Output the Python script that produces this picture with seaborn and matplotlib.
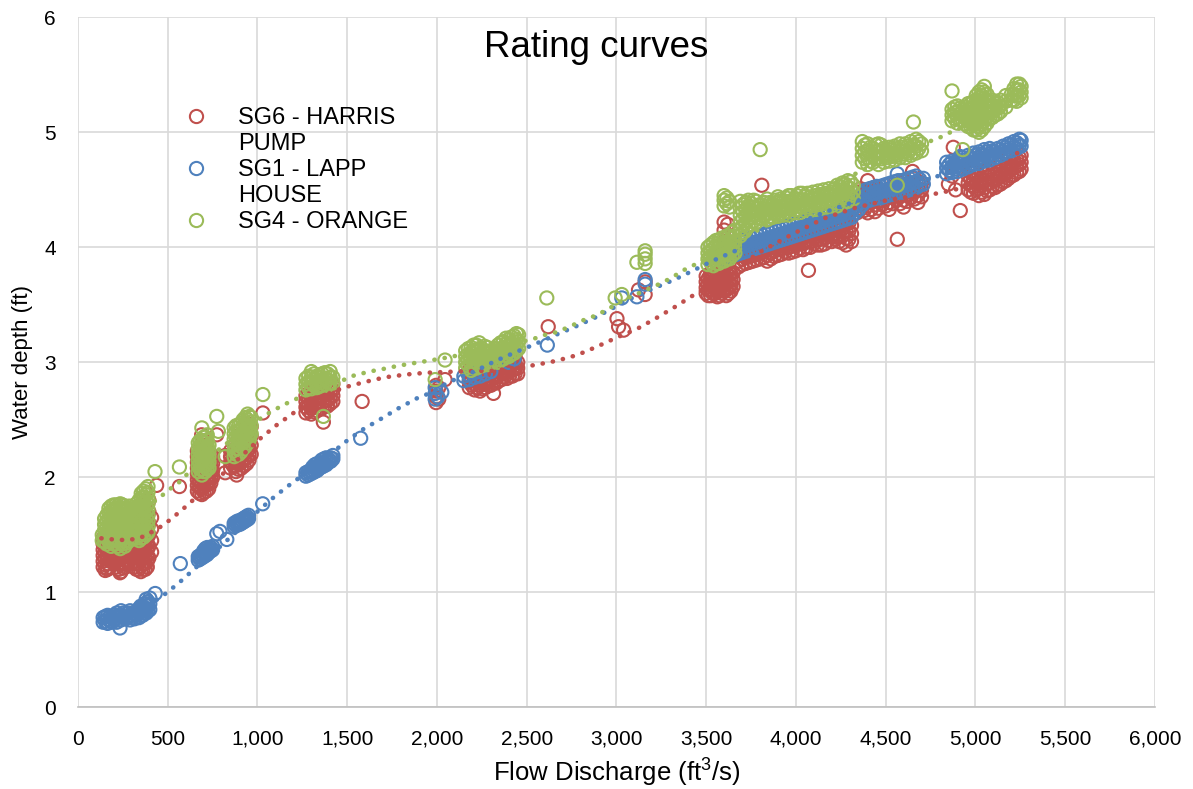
import matplotlib
matplotlib.use('Agg')
import matplotlib.pyplot as plt
import seaborn as sns
import pandas as pd
from matplotlib.lines import Line2D
from matplotlib.ticker import FuncFormatter

# (flow ft3/s, [water depths ft]), one column of points per flow
sg6_harris = [
    (140, [1.22, 1.27, 1.32, 1.37, 1.42, 1.47]), (160, [1.21]),
    (165, [1.20, 1.25, 1.30, 1.35, 1.40, 1.45, 1.50]), (190, [1.28, 1.33, 1.38, 1.43]),
    (215, [1.22, 1.27, 1.32, 1.37, 1.42]), (234, [1.17]),
    (240, [1.18, 1.24, 1.30, 1.36, 1.42, 1.48]), (265, [1.22, 1.28, 1.34, 1.40]),
    (300, [1.25, 1.30, 1.35, 1.40, 1.45]),
    (325, [1.20, 1.25, 1.30, 1.35, 1.40, 1.45, 1.50, 1.55]),
    (350, [1.18, 1.23, 1.28, 1.33, 1.38, 1.43, 1.48, 1.53, 1.58, 1.63]),
    (375, [1.20, 1.25, 1.30, 1.35, 1.40, 1.45, 1.50, 1.55, 1.60, 1.65, 1.70]),
    (395, [1.30, 1.40, 1.50, 1.60, 1.70, 1.80]), (438, [1.93]), (565, [1.92]),
    (665, [1.88, 1.93, 1.98, 2.03, 2.08, 2.13, 2.18, 2.23]), (689, [2.37]),
    (690, [1.85, 1.90, 1.95, 2.00, 2.05, 2.10, 2.15, 2.20, 2.25]),
    (715, [1.88, 1.93, 1.98, 2.03, 2.08, 2.13, 2.18, 2.23, 2.28]),
    (740, [1.95, 2.00, 2.05, 2.10, 2.15, 2.20]), (773, [2.37]), (820, [2.04, 2.19]),
    (850, [2.08, 2.13, 2.18, 2.23]), (880, [2.05, 2.10, 2.15, 2.20, 2.25, 2.30]), (884, [2.02]),
    (910, [2.08, 2.13, 2.18, 2.23, 2.28, 2.33, 2.38]),
    (940, [2.12, 2.17, 2.22, 2.27, 2.32, 2.37, 2.42, 2.47]),
    (965, [2.20, 2.28, 2.36, 2.44]), (1030, [2.56]),
    (1270, [2.56, 2.61, 2.66, 2.71]), (1300, [2.55, 2.60, 2.65, 2.70, 2.75]),
    (1330, [2.58, 2.63, 2.68, 2.73]), (1360, [2.60, 2.65, 2.70, 2.75]), (1367, [2.48]),
    (1390, [2.62, 2.67, 2.72, 2.77]), (1420, [2.66, 2.71, 2.76, 2.81]), (1583, [2.66]),
    (1995, [2.65, 2.70, 2.75, 2.80]), (2010, [2.68, 2.78]), (2045, [2.85]),
    (2180, [2.78, 2.83, 2.88, 2.93]), (2210, [2.76, 2.81, 2.86, 2.91]),
    (2240, [2.75, 2.80, 2.85, 2.90, 2.95]), (2270, [2.78, 2.83, 2.88, 2.93]),
    (2300, [2.80, 2.85, 2.90, 2.95]), (2315, [2.73]), (2330, [2.82, 2.87, 2.92]),
    (2360, [2.85, 2.90, 2.95, 3.00]), (2390, [2.86, 2.91, 2.96, 3.01]),
    (2420, [2.88, 2.93, 2.98, 3.03]), (2450, [2.90, 2.95, 3.00]), (2620, [3.31]),
    (3003, [3.38]), (3012, [3.31]), (3040, [3.28]), (3123, [3.63]), (3160, [3.59, 3.70]),
    (3500, [3.60, 3.65, 3.70, 3.75]), (3525, [3.58, 3.63, 3.68, 3.73, 3.78]),
    (3550, [3.60, 3.65, 3.70, 3.75]), (3575, [3.58, 3.63, 3.68, 3.73, 3.78]),
    (3600, [3.62, 3.67, 3.72, 3.77, 3.82, 3.95, 4.05, 4.15, 4.22]), (3620, [4.00, 4.10, 4.20]),
    (3625, [3.60, 3.65, 3.70, 3.75, 3.80]), (3650, [3.66, 3.72, 3.78]),
    (3680, [3.83, 3.88, 3.93, 3.98]), (3720, [3.86, 3.91, 3.96]),
    (3760, [3.88, 3.93, 3.98, 4.03]), (3800, [3.90, 3.95, 4.00]), (3810, [4.54]),
    (3840, [3.88, 3.93, 3.98, 4.03]), (3880, [3.92, 3.97, 4.02]),
    (3920, [3.94, 3.99, 4.04, 4.09]), (3960, [3.95, 4.00, 4.05]),
    (4000, [3.97, 4.02, 4.07, 4.12]), (4040, [3.98, 4.03, 4.08]), (4070, [3.80]),
    (4080, [4.00, 4.05, 4.10, 4.15]), (4120, [4.02, 4.07, 4.12]),
    (4160, [4.03, 4.08, 4.13, 4.18]), (4200, [4.05, 4.10, 4.15]),
    (4240, [4.05, 4.10, 4.15, 4.20]), (4280, [4.02, 4.08, 4.14, 4.20, 4.26]),
    (4310, [4.05, 4.12, 4.19]), (4340, [4.30, 4.36, 4.42, 4.48]),
    (4380, [4.32, 4.38, 4.44, 4.50]), (4400, [4.58]), (4420, [4.33, 4.39, 4.45, 4.51]),
    (4460, [4.34, 4.40, 4.46]), (4500, [4.36, 4.42, 4.48, 4.54]), (4540, [4.38, 4.44, 4.50]),
    (4565, [4.07]), (4580, [4.38, 4.44, 4.50, 4.56]), (4620, [4.40, 4.46, 4.52]),
    (4650, [4.66]), (4660, [4.42, 4.48, 4.54, 4.60]), (4700, [4.44, 4.50, 4.56]),
    (4850, [4.55]), (4870, [4.62]), (4877, [4.87]), (4890, [4.50]), (4916, [4.32]),
    (4960, [4.50, 4.56, 4.62, 4.68]), (4990, [4.47, 4.53, 4.59, 4.65]),
    (5020, [4.45, 4.51, 4.57, 4.63]), (5050, [4.46, 4.52, 4.58, 4.64]),
    (5080, [4.50, 4.56, 4.62, 4.68]), (5110, [4.52, 4.58, 4.64]),
    (5140, [4.55, 4.61, 4.67, 4.73]), (5170, [4.58, 4.64, 4.70]),
    (5200, [4.62, 4.68, 4.74]), (5230, [4.65, 4.71, 4.77]), (5255, [4.68, 4.74, 4.80]),
]
# in-between readings inside the dense SG6 blobs
sg6_harris_fill = [
    (152, [1.19, 1.24, 1.29, 1.34, 1.39]), (178, [1.22, 1.27, 1.32, 1.37]),
    (203, [1.25, 1.30, 1.35, 1.40]), (228, [1.20, 1.25, 1.30, 1.35, 1.40]),
    (252, [1.21, 1.26, 1.31, 1.36]), (282, [1.27, 1.32, 1.37]),
    (312, [1.22, 1.27, 1.32, 1.37, 1.42, 1.47]),
    (338, [1.20, 1.25, 1.30, 1.35, 1.40, 1.45, 1.50, 1.55]),
    (362, [1.20, 1.25, 1.30, 1.35, 1.40, 1.45, 1.50, 1.55, 1.60]),
    (386, [1.22, 1.27, 1.32, 1.37, 1.42, 1.47, 1.52, 1.57, 1.62, 1.67]),
    (410, [1.35, 1.45, 1.55, 1.65]),
    (678, [1.86, 1.91, 1.96, 2.01, 2.06]), (702, [1.87, 1.92, 1.97, 2.02, 2.07, 2.12]),
    (728, [1.90, 1.95, 2.00, 2.05, 2.10, 2.15, 2.20]), (750, [2.00, 2.06, 2.12, 2.18]),
    (865, [2.10, 2.15, 2.20]), (895, [2.07, 2.12, 2.17, 2.22, 2.27]),
    (925, [2.10, 2.15, 2.20, 2.25, 2.30, 2.35]), (953, [2.15, 2.20, 2.25, 2.30, 2.35, 2.40, 2.45]),
    (1285, [2.58, 2.63, 2.68, 2.73]), (1315, [2.57, 2.62, 2.67, 2.72]),
    (1345, [2.60, 2.65, 2.70, 2.75]), (1375, [2.62, 2.67, 2.72, 2.77]),
    (1405, [2.64, 2.69, 2.74, 2.79]),
    (2195, [2.80, 2.85, 2.90]), (2225, [2.78, 2.83, 2.88, 2.93]), (2255, [2.77, 2.82, 2.87, 2.92]),
    (2285, [2.80, 2.85, 2.90, 2.95]), (2315, [2.82, 2.87, 2.92]), (2345, [2.84, 2.89, 2.94, 2.99]),
    (2375, [2.87, 2.92, 2.97]), (2405, [2.88, 2.93, 2.98, 3.03]), (2435, [2.90, 2.95, 3.00, 3.05]),
    (3512, [3.58, 3.63, 3.68, 3.73]), (3537, [3.60, 3.65, 3.70, 3.75, 3.80]),
    (3562, [3.57, 3.62, 3.67, 3.72, 3.77]), (3587, [3.60, 3.65, 3.70, 3.75, 3.80]),
    (3612, [3.58, 3.63, 3.68, 3.73, 3.78]), (3638, [3.62, 3.67, 3.72, 3.77]),
    (3700, [3.85, 3.90, 3.95]), (3740, [3.87, 3.92, 3.97, 4.02]), (3780, [3.89, 3.94, 3.99, 4.04]),
    (3820, [3.91, 3.96, 4.01]), (3860, [3.90, 3.95, 4.00, 4.05]), (3900, [3.93, 3.98, 4.03]),
    (3940, [3.96, 4.01, 4.06]), (3980, [3.96, 4.01, 4.06, 4.11]), (4020, [3.99, 4.04, 4.09]),
    (4060, [4.00, 4.05, 4.10, 4.15]), (4100, [4.03, 4.08, 4.13]), (4140, [4.02, 4.07, 4.12, 4.17]),
    (4180, [4.06, 4.11, 4.16]), (4220, [4.07, 4.12, 4.17, 4.22]), (4260, [4.04, 4.10, 4.16, 4.22]),
    (4295, [4.07, 4.14, 4.21, 4.28]),
    (4360, [4.33, 4.39, 4.45, 4.51]), (4400, [4.30, 4.36, 4.42, 4.48]),
    (4440, [4.31, 4.37, 4.43, 4.49]), (4480, [4.37, 4.43, 4.49]), (4520, [4.33, 4.39, 4.45, 4.51]),
    (4560, [4.41, 4.47, 4.53]), (4600, [4.35, 4.41, 4.47, 4.53]), (4640, [4.43, 4.49, 4.55]),
    (4680, [4.39, 4.45, 4.51, 4.57]),
    (4975, [4.48, 4.54, 4.60, 4.66]), (5005, [4.50, 4.56, 4.62]), (5035, [4.48, 4.54, 4.60, 4.66]),
    (5065, [4.49, 4.55, 4.61, 4.67]), (5095, [4.53, 4.59, 4.65]), (5125, [4.54, 4.60, 4.66, 4.72]),
    (5155, [4.57, 4.63, 4.69]), (5185, [4.60, 4.66, 4.72, 4.78]), (5215, [4.63, 4.69, 4.75]),
    (5245, [4.66, 4.72, 4.78]),
]

sg1_lapp = [
    (140, [0.74, 0.78]), (165, [0.73, 0.77, 0.80]), (190, [0.74, 0.78]),
    (215, [0.74, 0.78, 0.82]), (234, [0.69]), (240, [0.76, 0.80, 0.84]), (265, [0.77, 0.81]),
    (290, [0.76, 0.80, 0.84]), (315, [0.77, 0.81]), (340, [0.78, 0.82, 0.86]),
    (360, [0.80, 0.84, 0.88]), (380, [0.82, 0.86, 0.90, 0.94]), (400, [0.85, 0.90, 0.95]),
    (430, [0.99]), (570, [1.25]),
    (670, [1.28, 1.31]), (690, [1.30, 1.33]), (710, [1.32, 1.35, 1.38]), (730, [1.35, 1.38]),
    (750, [1.37, 1.40]), (773, [1.51]), (791, [1.53]), (829, [1.46]),
    (870, [1.57, 1.60]), (890, [1.59, 1.62]), (910, [1.60, 1.63]), (930, [1.62, 1.65]),
    (950, [1.64, 1.67]), (1029, [1.77]),
    (1270, [2.01, 2.04]), (1295, [2.03, 2.06]), (1320, [2.05, 2.08, 2.11]), (1345, [2.08, 2.11]),
    (1370, [2.10, 2.13, 2.16]), (1395, [2.13, 2.16]), (1420, [2.16, 2.19]), (1575, [2.34]),
    (1990, [2.68, 2.73, 2.78]), (2005, [2.70]), (2027, [2.74]),
    (2150, [2.84, 2.88]), (2180, [2.85, 2.89]), (2210, [2.87, 2.91]), (2240, [2.88, 2.92]),
    (2270, [2.90]), (2300, [2.92]), (2400, [3.00]), (2430, [3.03]), (2615, [3.15]),
    (3030, [3.56]), (3114, [3.57]), (3160, [3.68, 3.72]),
    (3590, [3.90, 3.95]), (3630, [3.92, 3.97, 4.02]), (3670, [3.94, 3.99, 4.04]),
    (3710, [3.96, 4.01, 4.06]), (3750, [3.98, 4.03, 4.08]), (3790, [4.00, 4.05, 4.10]),
    (3830, [4.02, 4.07, 4.12]), (3870, [4.04, 4.09, 4.14]), (3910, [4.06, 4.11, 4.16]),
    (3950, [4.08, 4.13, 4.18]), (3990, [4.10, 4.15, 4.20]), (4030, [4.12, 4.17, 4.22]),
    (4070, [4.14, 4.19, 4.24]), (4110, [4.16, 4.21, 4.26]), (4150, [4.18, 4.23, 4.28]),
    (4190, [4.20, 4.25, 4.30]), (4230, [4.22, 4.27, 4.32]), (4270, [4.24, 4.29, 4.34]),
    (4310, [4.26, 4.31, 4.36]), (4350, [4.33, 4.38, 4.43]), (4390, [4.40, 4.45, 4.50]),
    (4430, [4.42, 4.47, 4.52]), (4470, [4.43, 4.48, 4.53]), (4510, [4.45, 4.50, 4.55]),
    (4550, [4.47, 4.52, 4.57]), (4565, [4.64]), (4590, [4.48, 4.53, 4.58]),
    (4630, [4.50, 4.55, 4.60]), (4670, [4.52, 4.57, 4.62]), (4710, [4.55, 4.60]),
    (4840, [4.64, 4.69, 4.74]), (4870, [4.65, 4.70, 4.75]), (4900, [4.66, 4.71, 4.76]),
    (4930, [4.68, 4.73, 4.78]), (4960, [4.70, 4.75, 4.80]), (4990, [4.72, 4.77, 4.82]),
    (5020, [4.73, 4.78, 4.83]), (5050, [4.75, 4.80, 4.85]), (5080, [4.76, 4.81, 4.86]),
    (5110, [4.78, 4.83]), (5140, [4.80, 4.85]), (5170, [4.82, 4.87]), (5200, [4.84, 4.89]),
    (5230, [4.86, 4.91]), (5255, [4.88, 4.93]),
]
sg1_lapp_fill = [
    (152, [0.75, 0.79]), (178, [0.75, 0.79]), (203, [0.76, 0.80]), (228, [0.76, 0.80]),
    (252, [0.78, 0.82]), (278, [0.78, 0.82]), (302, [0.78, 0.82]), (328, [0.80, 0.84]),
    (350, [0.80, 0.84, 0.88]), (370, [0.82, 0.86, 0.90]), (390, [0.84, 0.88, 0.92]),
    (680, [1.29, 1.32]), (700, [1.31, 1.34, 1.36]), (720, [1.33, 1.36, 1.39]), (740, [1.36, 1.39]),
    (880, [1.58, 1.61]), (900, [1.59, 1.62]), (920, [1.61, 1.64]), (940, [1.63, 1.66]),
    (1283, [2.02, 2.05]), (1308, [2.04, 2.07, 2.09]), (1333, [2.06, 2.09, 2.12]),
    (1358, [2.09, 2.12, 2.15]), (1383, [2.11, 2.14, 2.17]), (1408, [2.14, 2.17]),
    (3610, [3.91, 3.96, 4.01]), (3650, [3.93, 3.98, 4.03]), (3690, [3.95, 4.00, 4.05]),
    (3730, [3.97, 4.02, 4.07]), (3770, [3.99, 4.04, 4.09]), (3810, [4.01, 4.06, 4.11]),
    (3850, [4.03, 4.08, 4.13]), (3890, [4.05, 4.10, 4.15]), (3930, [4.07, 4.12, 4.17]),
    (3970, [4.09, 4.14, 4.19]), (4010, [4.11, 4.16, 4.21]), (4050, [4.13, 4.18, 4.23]),
    (4090, [4.15, 4.20, 4.25]), (4130, [4.17, 4.22, 4.27]), (4170, [4.19, 4.24, 4.29]),
    (4210, [4.21, 4.26, 4.31]), (4250, [4.23, 4.28, 4.33]), (4290, [4.25, 4.30, 4.35]),
    (4330, [4.30, 4.35, 4.40]), (4370, [4.37, 4.42, 4.47]), (4410, [4.41, 4.46, 4.51]),
    (4450, [4.43, 4.48, 4.53]), (4490, [4.44, 4.49, 4.54]), (4530, [4.46, 4.51, 4.56]),
    (4570, [4.48, 4.53, 4.58]), (4610, [4.49, 4.54, 4.59]), (4650, [4.51, 4.56, 4.61]),
    (4690, [4.54, 4.59]),
    (4855, [4.67, 4.72]), (4885, [4.68, 4.73]), (4915, [4.69, 4.74, 4.79]), (4945, [4.71, 4.76]),
    (4975, [4.73, 4.78]), (5005, [4.75, 4.80]), (5035, [4.76, 4.81]), (5065, [4.78, 4.83]),
    (5095, [4.79, 4.84]), (5125, [4.81, 4.86]), (5155, [4.83, 4.88]), (5185, [4.85, 4.90]),
    (5215, [4.87, 4.92]), (5245, [4.89, 4.94]),
]

sg4_orange = [
    (135, [1.45, 1.50]), (160, [1.42, 1.47, 1.52, 1.57, 1.62, 1.67]),
    (185, [1.40, 1.45, 1.50, 1.55, 1.60, 1.65, 1.70, 1.75]),
    (210, [1.42, 1.47, 1.52, 1.57, 1.62, 1.67, 1.72, 1.76]),
    (235, [1.38, 1.43, 1.48, 1.53, 1.58, 1.63, 1.68, 1.73, 1.77]),
    (260, [1.40, 1.45, 1.50, 1.55, 1.60, 1.65, 1.70, 1.75]),
    (285, [1.45, 1.50, 1.55, 1.60, 1.65, 1.70, 1.75]),
    (310, [1.48, 1.53, 1.58, 1.63, 1.68, 1.73]),
    (340, [1.45, 1.50, 1.55, 1.60, 1.65, 1.70, 1.75, 1.80]),
    (365, [1.48, 1.53, 1.58, 1.63, 1.68, 1.73, 1.78, 1.83, 1.88]),
    (390, [1.52, 1.57, 1.62, 1.67, 1.72, 1.77, 1.82, 1.87, 1.92]),
    (429, [2.05]), (565, [2.09]),
    (670, [2.05, 2.10, 2.15, 2.20, 2.25, 2.30]), (690, [2.02, 2.07, 2.12, 2.17, 2.22, 2.27, 2.32, 2.43]),
    (710, [2.05, 2.10, 2.15, 2.20, 2.25, 2.30, 2.35]), (730, [2.08, 2.13, 2.18, 2.23, 2.28]),
    (773, [2.53]), (782, [2.40]), (820, [2.18]),
    (870, [2.18, 2.23, 2.28, 2.33, 2.38, 2.43]), (895, [2.20, 2.25, 2.30, 2.35, 2.40, 2.45]),
    (920, [2.25, 2.30, 2.35, 2.40, 2.45, 2.50]), (945, [2.30, 2.35, 2.40, 2.45, 2.50, 2.55]),
    (965, [2.38, 2.45, 2.52]), (1030, [2.72]),
    (1270, [2.76, 2.81, 2.86]), (1300, [2.77, 2.82, 2.87, 2.92]), (1330, [2.78, 2.83, 2.88]),
    (1360, [2.80, 2.85, 2.90]), (1367, [2.53]), (1390, [2.80, 2.85, 2.90]), (1420, [2.82, 2.87]),
    (1990, [2.85]), (2045, [3.02]),
    (2160, [2.95, 3.00, 3.05, 3.10]), (2190, [2.93, 2.98, 3.03, 3.08, 3.13]),
    (2220, [2.95, 3.00, 3.05, 3.10, 3.15]), (2250, [2.97, 3.02, 3.07, 3.12]),
    (2280, [2.98, 3.03, 3.08, 3.13]), (2310, [3.00, 3.05, 3.10]),
    (2340, [3.00, 3.05, 3.10, 3.15]), (2370, [3.03, 3.08, 3.13, 3.18]),
    (2400, [3.05, 3.10, 3.15, 3.20]), (2430, [3.08, 3.13, 3.18, 3.23]),
    (2455, [3.12, 3.18, 3.24]), (2612, [3.56]),
    (2993, [3.56]), (3030, [3.59]), (3114, [3.87]), (3160, [3.86, 3.90, 3.94, 3.97]),
    (3510, [3.85, 3.90, 3.95, 4.00]), (3540, [3.84, 3.89, 3.94, 3.99, 4.04]),
    (3570, [3.86, 3.91, 3.96, 4.01, 4.06]),
    (3600, [3.88, 3.93, 3.98, 4.03, 4.08, 4.36, 4.41, 4.45]),
    (3630, [3.90, 3.95, 4.00, 4.05, 4.10, 4.35, 4.40]), (3660, [3.95, 4.00, 4.05, 4.10, 4.15]),
    (3690, [4.10, 4.16, 4.22, 4.28, 4.34, 4.40]), (3720, [4.15, 4.21, 4.27, 4.33, 4.39]),
    (3750, [4.20, 4.26, 4.32, 4.38]), (3780, [4.22, 4.28, 4.34, 4.40]), (3801, [4.85]),
    (3810, [4.25, 4.31, 4.37]), (3840, [4.24, 4.30, 4.36, 4.42]), (3870, [4.26, 4.32, 4.38]),
    (3900, [4.27, 4.33, 4.39, 4.44]), (3930, [4.28, 4.34, 4.40]), (3960, [4.28, 4.34, 4.40, 4.45]),
    (3990, [4.30, 4.36, 4.42]), (4020, [4.30, 4.36, 4.42, 4.47]), (4050, [4.32, 4.38, 4.44]),
    (4080, [4.32, 4.38, 4.44]), (4110, [4.33, 4.39, 4.45]), (4140, [4.34, 4.40, 4.46]),
    (4170, [4.35, 4.41, 4.47]), (4200, [4.36, 4.42, 4.48]), (4230, [4.36, 4.42, 4.48, 4.54]),
    (4260, [4.38, 4.44, 4.50, 4.56]), (4290, [4.40, 4.46, 4.52, 4.58]), (4320, [4.42, 4.48, 4.54]),
    (4370, [4.74, 4.80, 4.86, 4.92]), (4400, [4.72, 4.78, 4.84, 4.90]), (4430, [4.74, 4.80, 4.86]),
    (4460, [4.72, 4.78, 4.84, 4.90]), (4490, [4.74, 4.80, 4.86]), (4520, [4.75, 4.81, 4.87]),
    (4550, [4.76, 4.82, 4.88]), (4565, [4.54]), (4580, [4.78, 4.84, 4.90]),
    (4610, [4.78, 4.84, 4.90]), (4640, [4.80, 4.86, 4.92]), (4655, [5.09]),
    (4670, [4.82, 4.88, 4.94]), (4700, [4.84, 4.90]),
    (4870, [5.10, 5.15, 5.20, 5.36]), (4900, [5.08, 5.13, 5.18, 5.23]), (4930, [4.85, 5.10, 5.15, 5.20]),
    (4960, [5.05, 5.10, 5.15, 5.20, 5.25]), (4990, [5.02, 5.07, 5.12, 5.17, 5.22, 5.27]),
    (5020, [5.00, 5.05, 5.10, 5.15, 5.20, 5.25, 5.30, 5.35]),
    (5050, [5.05, 5.10, 5.15, 5.20, 5.25, 5.30, 5.35, 5.40]),
    (5080, [5.12, 5.17, 5.22, 5.27]), (5110, [5.15, 5.20, 5.25]), (5140, [5.18, 5.23, 5.28]),
    (5200, [5.28, 5.33]), (5230, [5.27, 5.32, 5.37, 5.42]), (5255, [5.30, 5.35, 5.40]),
]
sg4_orange_fill = [
    (148, [1.44, 1.49, 1.54, 1.59, 1.64]), (172, [1.44, 1.49, 1.54, 1.59, 1.64, 1.69, 1.73]),
    (198, [1.42, 1.47, 1.52, 1.57, 1.62, 1.67, 1.72, 1.76]),
    (222, [1.40, 1.45, 1.50, 1.55, 1.60, 1.65, 1.70, 1.75]),
    (248, [1.42, 1.47, 1.52, 1.57, 1.62, 1.67, 1.72, 1.76]),
    (272, [1.43, 1.48, 1.53, 1.58, 1.63, 1.68, 1.73]), (298, [1.47, 1.52, 1.57, 1.62, 1.67, 1.72]),
    (325, [1.47, 1.52, 1.57, 1.62, 1.67, 1.72, 1.77]),
    (352, [1.47, 1.52, 1.57, 1.62, 1.67, 1.72, 1.77, 1.82, 1.86]),
    (378, [1.50, 1.55, 1.60, 1.65, 1.70, 1.75, 1.80, 1.85, 1.90]),
    (680, [2.07, 2.12, 2.17, 2.22, 2.27, 2.32]), (700, [2.05, 2.10, 2.15, 2.20, 2.25, 2.30, 2.35]),
    (720, [2.07, 2.12, 2.17, 2.22, 2.27, 2.32, 2.37]),
    (882, [2.20, 2.25, 2.30, 2.35, 2.40, 2.45]), (907, [2.22, 2.27, 2.32, 2.37, 2.42, 2.47]),
    (932, [2.27, 2.32, 2.37, 2.42, 2.47, 2.52]), (955, [2.33, 2.38, 2.43, 2.48, 2.53]),
    (1285, [2.78, 2.83, 2.88]), (1315, [2.80, 2.85, 2.90]), (1345, [2.79, 2.84, 2.89]),
    (1375, [2.81, 2.86, 2.91]), (1405, [2.82, 2.87, 2.92]),
    (2175, [2.97, 3.02, 3.07, 3.12]), (2205, [2.95, 3.00, 3.05, 3.10, 3.15]),
    (2235, [2.97, 3.02, 3.07, 3.12, 3.17]), (2265, [2.99, 3.04, 3.09, 3.14]),
    (2295, [3.00, 3.05, 3.10]), (2325, [3.02, 3.07, 3.12]), (2355, [3.02, 3.07, 3.12, 3.17]),
    (2385, [3.06, 3.11, 3.16, 3.21]), (2415, [3.07, 3.12, 3.17, 3.22]),
    (2443, [3.10, 3.15, 3.20, 3.25]),
    (3525, [3.87, 3.92, 3.97, 4.02]), (3555, [3.86, 3.91, 3.96, 4.01, 4.06]),
    (3585, [3.88, 3.93, 3.98, 4.03, 4.08]), (3615, [3.90, 3.95, 4.00, 4.05, 4.10, 4.38, 4.43]),
    (3645, [3.93, 3.98, 4.03, 4.08, 4.13]),
    (3705, [4.13, 4.19, 4.25, 4.31, 4.37]), (3735, [4.18, 4.24, 4.30, 4.36, 4.41]),
    (3765, [4.23, 4.29, 4.35, 4.41]), (3795, [4.25, 4.31, 4.37]), (3825, [4.27, 4.33, 4.39]),
    (3855, [4.27, 4.33, 4.39]), (3885, [4.29, 4.35, 4.41]), (3915, [4.30, 4.36, 4.42]),
    (3945, [4.31, 4.37, 4.43]), (3975, [4.33, 4.39, 4.45]), (4005, [4.33, 4.39, 4.45]),
    (4035, [4.35, 4.41, 4.47]), (4065, [4.35, 4.41, 4.47]), (4095, [4.36, 4.42, 4.48]),
    (4125, [4.37, 4.43, 4.49]), (4155, [4.38, 4.44, 4.50]), (4185, [4.39, 4.45, 4.51]),
    (4215, [4.39, 4.45, 4.51]), (4245, [4.41, 4.47, 4.53]), (4275, [4.43, 4.49, 4.55]),
    (4305, [4.45, 4.51, 4.57]),
    (4385, [4.77, 4.83, 4.89]), (4415, [4.75, 4.81, 4.87]), (4445, [4.77, 4.83, 4.89]),
    (4475, [4.77, 4.83, 4.89]), (4505, [4.78, 4.84]), (4535, [4.79, 4.85]), (4565, [4.80, 4.86]),
    (4595, [4.81, 4.87]), (4625, [4.82, 4.88]), (4655, [4.83, 4.89]), (4685, [4.86, 4.92]),
    (4885, [5.12, 5.17, 5.22]), (4915, [5.11, 5.16, 5.21]), (4945, [5.07, 5.12, 5.17, 5.22]),
    (4975, [5.05, 5.10, 5.15, 5.20, 5.25]), (5005, [5.02, 5.07, 5.12, 5.17, 5.22, 5.27, 5.32]),
    (5035, [5.02, 5.07, 5.12, 5.17, 5.22, 5.27, 5.32, 5.37]),
    (5065, [5.08, 5.13, 5.18, 5.23, 5.28, 5.33]), (5095, [5.13, 5.18, 5.23, 5.28]),
    (5125, [5.16, 5.21, 5.26]), (5170, [5.22, 5.27, 5.32]), (5215, [5.28, 5.33, 5.38]),
    (5245, [5.32, 5.37, 5.42]),
]

# dotted polynomial trend lines
sg6_trend_q = [130, 170, 256, 318, 373, 476, 572, 661, 800, 900, 1015, 1107, 1210, 1300, 1400,
               1479, 1600, 1711, 1832, 1947, 2070, 2189, 2311, 2430, 2547, 2668, 2780, 2891,
               3003, 3114, 3220, 3322, 3422, 3532, 3630, 3820, 3987, 4154, 4322, 4493, 4650,
               4795, 4907, 5000, 5100, 5200, 5255]
sg6_trend_h = [1.47, 1.463, 1.455, 1.463, 1.49, 1.585, 1.707, 1.83, 2.02, 2.17, 2.337, 2.455,
               2.57, 2.66, 2.73, 2.78, 2.83, 2.87, 2.895, 2.91, 2.918, 2.924, 2.927, 2.95,
               2.977, 3.014, 3.063, 3.136, 3.217, 3.29, 3.383, 3.478, 3.577, 3.683, 3.785,
               3.977, 4.12, 4.25, 4.34, 4.405, 4.445, 4.47, 4.51, 4.56, 4.64, 4.76, 4.86]

sg1_trend_q = [130, 250, 350, 466, 559, 652, 750, 850, 1005, 1098, 1200, 1300, 1400, 1479,
               1581, 1683, 1785, 1888, 1944, 2020, 2101, 2213, 2324, 2436, 2547, 2659, 2770,
               2882, 2990, 3100, 3207, 3318, 3426, 3532, 3643, 3780, 3900, 4030, 4145, 4257,
               4368, 4500, 4640, 4768, 4900, 5050, 5150, 5255]
sg1_trend_h = [0.70, 0.76, 0.85, 0.962, 1.078, 1.209, 1.34, 1.48, 1.71, 1.837, 1.96, 2.07,
               2.19, 2.296, 2.411, 2.504, 2.60, 2.687, 2.722, 2.79, 2.852, 2.924, 3.011, 3.087,
               3.159, 3.237, 3.31, 3.39, 3.48, 3.57, 3.643, 3.716, 3.797, 3.88, 3.956, 4.05,
               4.13, 4.22, 4.296, 4.36, 4.417, 4.48, 4.545, 4.609, 4.67, 4.75, 4.81, 4.88]

sg4_trend_q = [130, 250, 350, 435, 476, 522, 574, 615, 700, 800, 900, 996, 1042, 1098, 1154,
               1210, 1300, 1400, 1488, 1544, 1600, 1665, 1721, 1776, 1832, 1897, 1953, 2050,
               2150, 2250, 2400, 2547, 2597, 2659, 2724, 2770, 2826, 2882, 2937, 3050, 3207,
               3263, 3318, 3356, 3412, 3500, 3650, 3800, 3950, 4100, 4197, 4359, 4500, 4620,
               4740, 4805, 4860, 5000, 5120, 5255]
sg4_trend_h = [1.52, 1.62, 1.72, 1.80, 1.852, 1.91, 1.97, 2.04, 2.14, 2.26, 2.38, 2.49, 2.54,
               2.59, 2.637, 2.678, 2.74, 2.80, 2.852, 2.89, 2.91, 2.933, 2.948, 2.968, 2.983,
               3.0, 3.014, 3.04, 3.07, 3.10, 3.15, 3.209, 3.237, 3.26, 3.30, 3.333, 3.374,
               3.405, 3.449, 3.55, 3.657, 3.70, 3.744, 3.788, 3.83, 3.90, 4.03, 4.16, 4.30,
               4.44, 4.54, 4.66, 4.77, 4.85, 4.918, 4.957, 5.0, 5.09, 5.18, 5.30]

legend_lines = ['SG6 - HARRIS', 'PUMP', 'SG1 - LAPP', 'HOUSE', 'SG4 - ORANGE']
colors = ['#C0504D', '#4F81BD', '#9BBB59']


def to_frame(*parts):
    rows = [(q, h) for columns in parts for q, depths in columns for h in depths]
    return pd.DataFrame(rows, columns=['flow', 'depth'])


sns.set_style('white')
plt.rcParams['font.family'] = ['Liberation Sans', 'DejaVu Sans']
plt.rcParams['mathtext.fontset'] = 'custom'
plt.rcParams['mathtext.rm'] = 'Liberation Sans'
plt.rcParams['text.color'] = 'black'
plt.rcParams['axes.labelcolor'] = 'black'

fig, ax = plt.subplots(figsize=(11.93, 7.89), dpi=100)
fig.subplots_adjust(left=0.0654, right=0.968, bottom=0.1035, top=0.978)

series = [(sg6_harris, sg6_harris_fill), (sg1_lapp, sg1_lapp_fill), (sg4_orange, sg4_orange_fill)]
for (data, fill), color in zip(series, colors):
    sns.scatterplot(data=to_frame(data, fill), x='flow', y='depth', ax=ax, s=90, marker='o',
                    facecolor='none', edgecolor=color, linewidth=1.5, legend=False, zorder=2)

trends = [(sg6_trend_q, sg6_trend_h), (sg1_trend_q, sg1_trend_h), (sg4_trend_q, sg4_trend_h)]
for (q, h), color in zip(trends, colors):
    sns.lineplot(x=q, y=h, ax=ax, color=color, linewidth=3.3, linestyle=(0, (0.05, 2.2)),
                 dash_capstyle='round', sort=False, estimator=None, legend=False, zorder=4)

ax.set_xlim(0, 6000)
ax.set_ylim(0, 6)
ax.set_xticks(range(0, 6001, 500))
ax.set_yticks(range(0, 7))
ax.xaxis.set_major_formatter(FuncFormatter(lambda v, _: f'{v:,.0f}'))
ax.tick_params(axis='both', length=0, labelsize=15, colors='black')
ax.tick_params(axis='x', pad=16)
ax.tick_params(axis='y', pad=16)
ax.grid(True, color='#D9D9D9', linewidth=1.2)
ax.set_axisbelow(True)
for side in ['top', 'right', 'left']:
    ax.spines[side].set_visible(False)
ax.spines['bottom'].set_color('#BFBFBF')
ax.spines['bottom'].set_linewidth(1.2)

ax.set_xlabel(r'Flow Discharge (ft$^{\mathregular{3}}$/s)', fontsize=18.5, labelpad=5)
ax.set_ylabel('Water depth (ft)', fontsize=16, labelpad=8)
fig.text(0.5, 0.94, 'Rating curves', ha='center', va='center', fontsize=26.5, color='black')

# legend: a wrapped label keeps its marker on the first line
marker_handles = [Line2D([], [], linestyle='none', marker='o', markersize=9.5,
                         markerfacecolor='none', markeredgecolor=c, markeredgewidth=1.5)
                  for c in colors]
blank = Line2D([], [], linestyle='none')
handles = [marker_handles[0], blank, marker_handles[1], blank, marker_handles[2]]
ax.legend(handles, legend_lines, loc='upper left', bbox_to_anchor=(0.0877, 0.87),
          frameon=False, fontsize=17, handletextpad=0.78, labelspacing=0.17,
          borderpad=0, borderaxespad=0)

plt.savefig('out.png', dpi=100)
